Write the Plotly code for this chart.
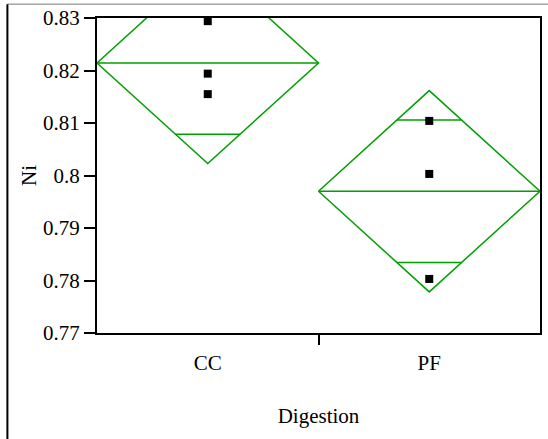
import numpy as np
import plotly.graph_objects as go

# Data
categories = ["CC", "PF"]
cc_values = [0.8294, 0.8194, 0.8155]
pf_values = [0.8104, 0.8003, 0.7803]
y_ticks = [0.77, 0.78, 0.79, 0.80, 0.81, 0.82, 0.83]
y_tick_labels = ["0.77", "0.78", "0.79", "0.8", "0.81", "0.82", "0.83"]
t_crit = 2.776  # t(0.975, df=4)

groups = [cc_values, pf_values]
means = [float(np.mean(g)) for g in groups]
resid = np.concatenate([np.array(g) - np.mean(g) for g in groups])
dfree = sum(len(g) for g in groups) - len(groups)
mse = float(np.sum(resid ** 2) / dfree)
half = [t_crit * np.sqrt(mse / len(g)) for g in groups]

GREEN = "#00A000"
FONT = "Liberation Serif"

fig = go.Figure()

for i, (m, h) in enumerate(zip(means, half)):
    fig.add_trace(go.Scatter(
        x=[i - 0.5, i, i + 0.5, i, i - 0.5],
        y=[m, m + h, m, m - h, m],
        mode="lines", line=dict(color=GREEN, width=1.5),
        hoverinfo="skip", showlegend=False))
    fig.add_trace(go.Scatter(
        x=[i - 0.5, i + 0.5], y=[m, m],
        mode="lines", line=dict(color=GREEN, width=1.5),
        hoverinfo="skip", showlegend=False))
    ov = h / np.sqrt(2)
    w = 0.5 * (1 - 1 / np.sqrt(2))
    for s in (1, -1):
        fig.add_trace(go.Scatter(
            x=[i - w, i + w], y=[m + s * ov, m + s * ov],
            mode="lines", line=dict(color=GREEN, width=1.5),
            hoverinfo="skip", showlegend=False))

for i, g in enumerate(groups):
    fig.add_trace(go.Scatter(
        x=[i] * len(g), y=g, mode="markers",
        marker=dict(symbol="square", size=8, color="black"),
        showlegend=False))

tick_font = dict(family=FONT, size=21, color="black")

fig.update_layout(
    width=548, height=439,
    margin=dict(l=97, r=6, t=15, b=106),
    paper_bgcolor="white", plot_bgcolor="white",
    font=tick_font,
    xaxis=dict(
        range=[-0.5, 1.5], tickvals=[0, 1], ticktext=categories,
        tickfont=tick_font,
        ticks="outside", ticklen=10, tickcolor="rgba(0,0,0,0)",
        showgrid=False, zeroline=False,
        showline=True, linecolor="black", linewidth=2, mirror=True,
        minor=dict(tickvals=[0.5], ticks="outside", ticklen=10,
                   tickcolor="black", tickwidth=2, showgrid=False),
        title=dict(text="Digestion", standoff=34, font=tick_font),
    ),
    yaxis=dict(
        range=[0.77, 0.83], tickvals=y_ticks, ticktext=y_tick_labels,
        tickfont=tick_font,
        ticks="outside", ticklen=11, tickwidth=2, tickcolor="black",
        showgrid=False, zeroline=False,
        showline=True, linecolor="black", linewidth=2, mirror=True,
        title=dict(text="Ni", standoff=1, font=tick_font),
    ),
    shapes=[
        dict(type="line", xref="paper", yref="paper",
             x0=(7 - 97) / 445, x1=1.1, y0=1 + 14 / 318, y1=1 + 14 / 318,
             line=dict(color="#777777", width=1)),
        dict(type="line", xref="paper", yref="paper",
             x0=(7 - 97) / 445, x1=(7 - 97) / 445, y0=1 + 14 / 318, y1=-0.5,
             line=dict(color="black", width=2)),
    ],
)

fig.write_html("out.html")
